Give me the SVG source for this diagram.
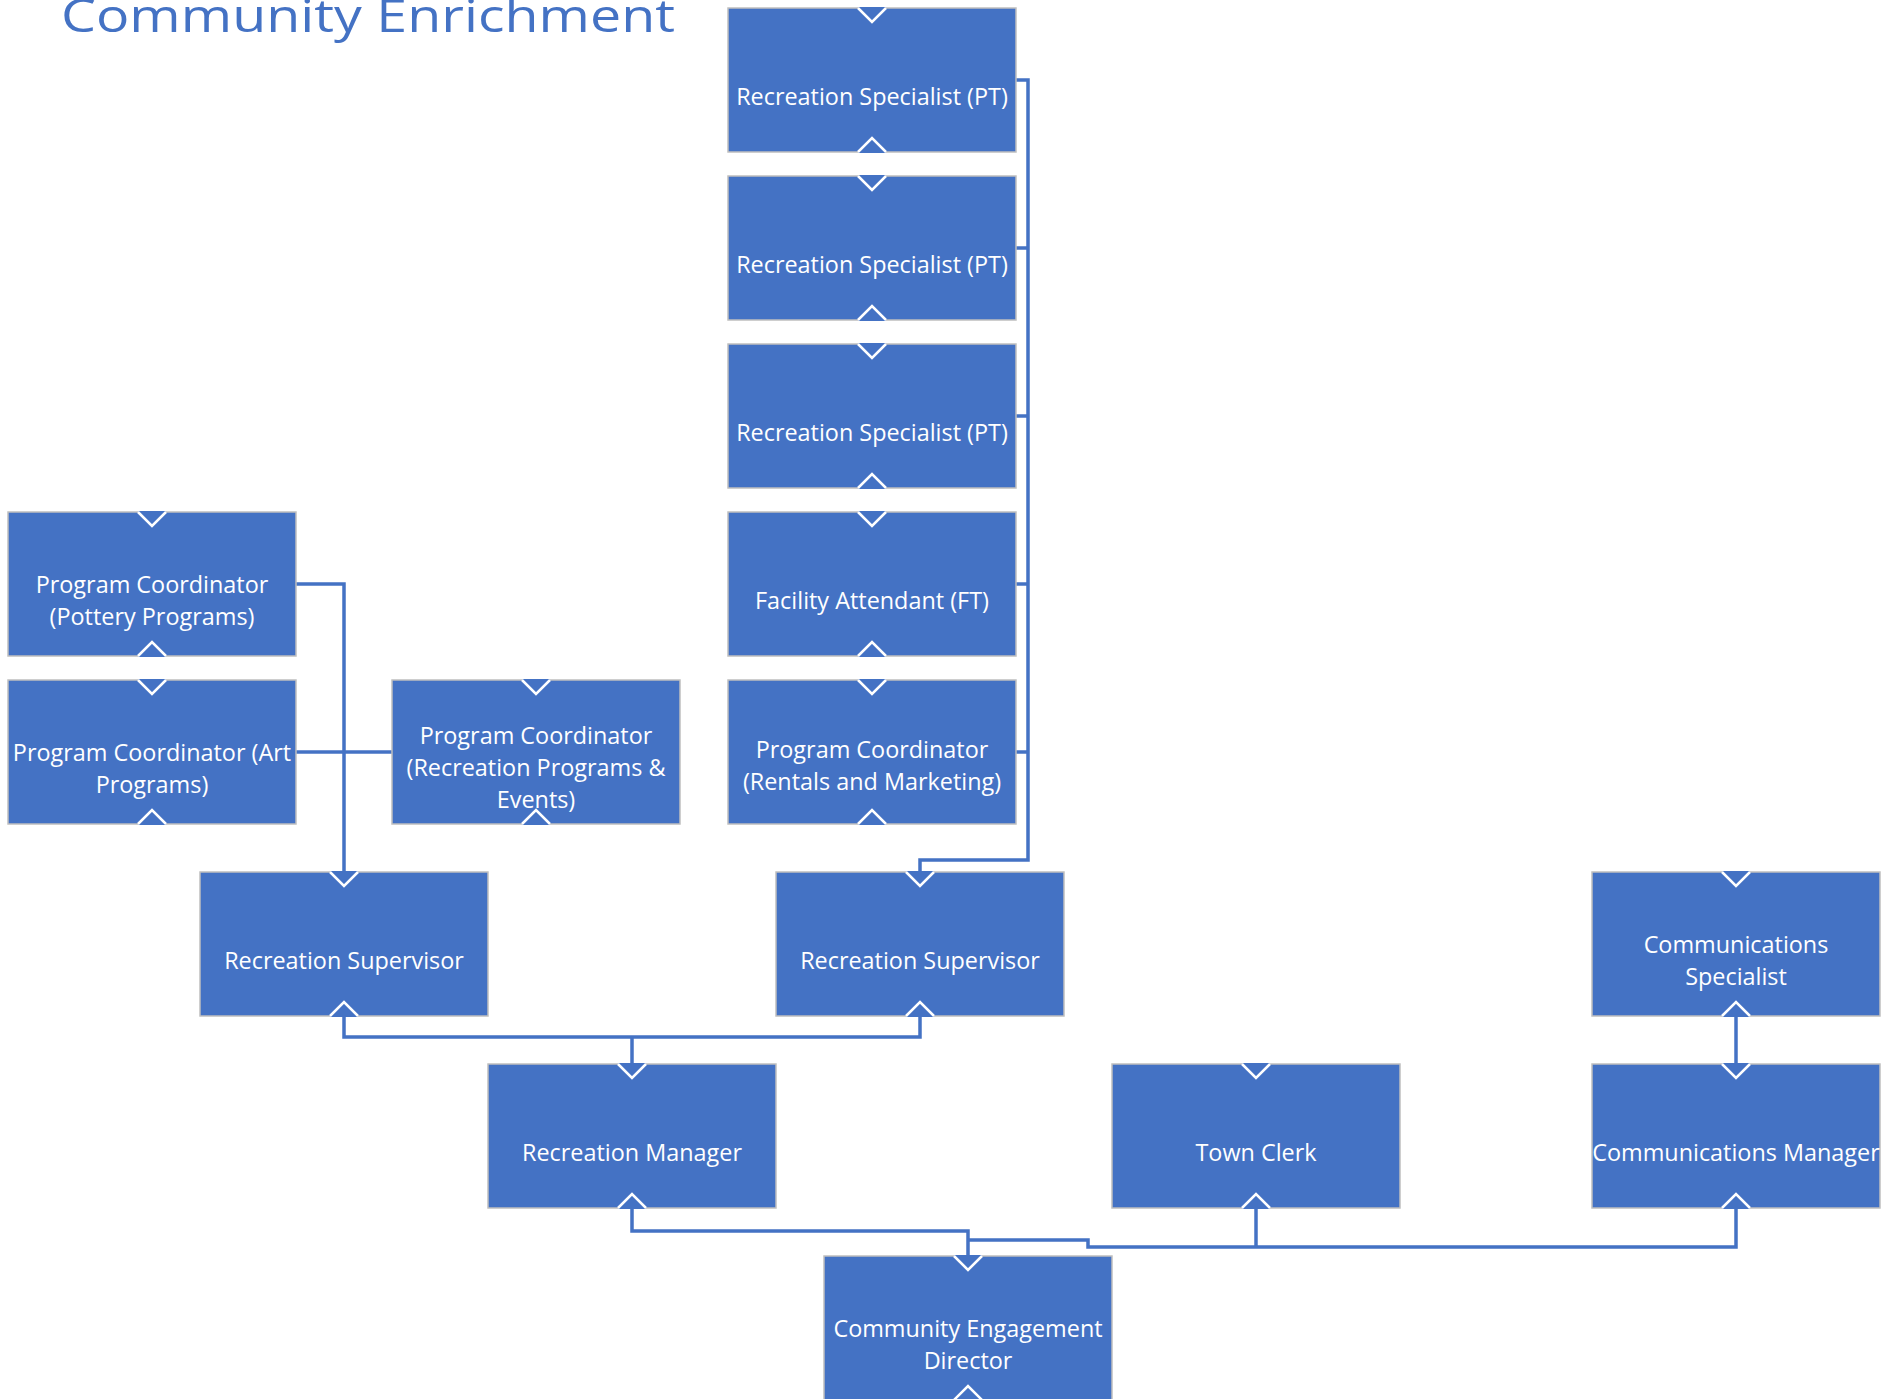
<svg xmlns="http://www.w3.org/2000/svg" xmlns:xlink="http://www.w3.org/1999/xlink" width="1898" height="1399" viewBox="0 0 1898 1399">
<style>
.bg{fill:#ffffff}
.box{fill:#4472C4;stroke:#BFBFBF;stroke-width:1.5}
.lbl{font-family:"Open Sans","Noto Sans","DejaVu Sans",sans-serif;font-size:23.4px;fill:#ffffff;text-anchor:middle}
.title{font-family:"Open Sans","Noto Sans","DejaVu Sans",sans-serif;font-size:45px;fill:#4472C4}
.conn{fill:none;stroke:#4472C4;stroke-width:3.5;stroke-linejoin:miter;stroke-linecap:butt}
.chev{fill:#4472C4;stroke:none}
.chevl{fill:none;stroke:#ffffff;stroke-width:2.5;stroke-linejoin:miter}
</style>
<defs>
<g id="vdown"><path class="chev" d="M-14,-1 L0,14 L14,-1 Z"/><path class="chevl" d="M-14,0 L0,14 L14,0"/></g>
<g id="vup"><path class="chev" d="M-14,1 L0,-14 L14,1 Z"/><path class="chevl" d="M-14,0 L0,-14 L14,0"/></g>
</defs>
<rect class="bg" x="0" y="0" width="1898" height="1399"/>
<text class="title" x="61" y="32" textLength="614" lengthAdjust="spacingAndGlyphs">Community Enrichment</text>

<g id="connectors">
<path class="conn" d="M1016,80 H1028 V860 H920 V872"/>
<path class="conn" d="M1016,248 H1028"/>
<path class="conn" d="M1016,416 H1028"/>
<path class="conn" d="M1016,584 H1028"/>
<path class="conn" d="M1016,752 H1028"/>
<path class="conn" d="M296,584 H344 V872"/>
<path class="conn" d="M296,752 H392"/>
<path class="conn" d="M632,1064 V1037"/>
<path class="conn" d="M344,1016 V1037 H920 V1016"/>
<path class="conn" d="M632,1208 V1231 H968 V1256"/>
<path class="conn" d="M968,1240 H1088 V1247 H1736 V1208"/>
<path class="conn" d="M1256,1247 V1208"/>
<path class="conn" d="M1736,1016 V1064"/>
</g>

<g id="spec1"><rect class="box" x="728" y="8" width="288" height="144"/><use href="#vdown" x="872" y="8"/><use href="#vup" x="872" y="152"/><text class="lbl" x="872" y="105">Recreation Specialist (PT)</text></g>
<g id="spec2"><rect class="box" x="728" y="176" width="288" height="144"/><use href="#vdown" x="872" y="176"/><use href="#vup" x="872" y="320"/><text class="lbl" x="872" y="273">Recreation Specialist (PT)</text></g>
<g id="spec3"><rect class="box" x="728" y="344" width="288" height="144"/><use href="#vdown" x="872" y="344"/><use href="#vup" x="872" y="488"/><text class="lbl" x="872" y="441">Recreation Specialist (PT)</text></g>
<g id="facility"><rect class="box" x="728" y="512" width="288" height="144"/><use href="#vdown" x="872" y="512"/><use href="#vup" x="872" y="656"/><text class="lbl" x="872" y="609">Facility Attendant (FT)</text></g>
<g id="rentals"><rect class="box" x="728" y="680" width="288" height="144"/><use href="#vdown" x="872" y="680"/><use href="#vup" x="872" y="824"/><text class="lbl" x="872" y="758">Program Coordinator</text><text class="lbl" x="872" y="790">(Rentals and Marketing)</text></g>

<g id="pottery"><rect class="box" x="8" y="512" width="288" height="144"/><use href="#vdown" x="152" y="512"/><use href="#vup" x="152" y="656"/><text class="lbl" x="152" y="593">Program Coordinator</text><text class="lbl" x="152" y="625">(Pottery Programs)</text></g>
<g id="art"><rect class="box" x="8" y="680" width="288" height="144"/><use href="#vdown" x="152" y="680"/><use href="#vup" x="152" y="824"/><text class="lbl" x="152" y="761">Program Coordinator (Art</text><text class="lbl" x="152" y="793">Programs)</text></g>
<g id="recprograms"><rect class="box" x="392" y="680" width="288" height="144"/><use href="#vdown" x="536" y="680"/><use href="#vup" x="536" y="824"/><text class="lbl" x="536" y="744">Program Coordinator</text><text class="lbl" x="536" y="776">(Recreation Programs &amp;</text><text class="lbl" x="536" y="808">Events)</text></g>

<g id="supervisor1"><rect class="box" x="200" y="872" width="288" height="144"/><use href="#vdown" x="344" y="872"/><use href="#vup" x="344" y="1016"/><text class="lbl" x="344" y="969">Recreation Supervisor</text></g>
<g id="supervisor2"><rect class="box" x="776" y="872" width="288" height="144"/><use href="#vdown" x="920" y="872"/><use href="#vup" x="920" y="1016"/><text class="lbl" x="920" y="969">Recreation Supervisor</text></g>
<g id="commspecialist"><rect class="box" x="1592" y="872" width="288" height="144"/><use href="#vdown" x="1736" y="872"/><use href="#vup" x="1736" y="1016"/><text class="lbl" x="1736" y="953">Communications</text><text class="lbl" x="1736" y="985">Specialist</text></g>

<g id="recmanager"><rect class="box" x="488" y="1064" width="288" height="144"/><use href="#vdown" x="632" y="1064"/><use href="#vup" x="632" y="1208"/><text class="lbl" x="632" y="1161">Recreation Manager</text></g>
<g id="townclerk"><rect class="box" x="1112" y="1064" width="288" height="144"/><use href="#vdown" x="1256" y="1064"/><use href="#vup" x="1256" y="1208"/><text class="lbl" x="1256" y="1161">Town Clerk</text></g>
<g id="commmanager"><rect class="box" x="1592" y="1064" width="288" height="144"/><use href="#vdown" x="1736" y="1064"/><use href="#vup" x="1736" y="1208"/><text class="lbl" x="1736" y="1161">Communications Manager</text></g>

<g id="director"><rect class="box" x="824" y="1256" width="288" height="144"/><use href="#vdown" x="968" y="1256"/><use href="#vup" x="968" y="1400"/><text class="lbl" x="968" y="1337">Community Engagement</text><text class="lbl" x="968" y="1369">Director</text></g>
</svg>
